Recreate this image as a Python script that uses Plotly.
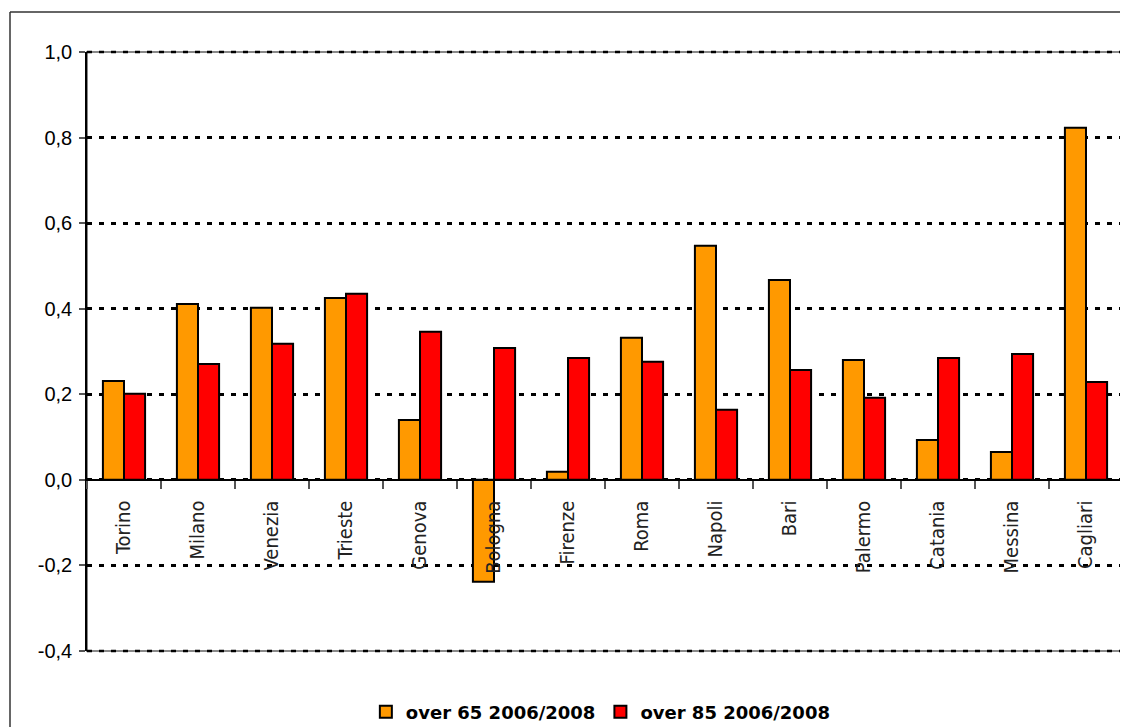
import plotly.graph_objects as go

cities = ["Torino", "Milano", "Venezia", "Trieste", "Genova", "Bologna", "Firenze",
          "Roma", "Napoli", "Bari", "Palermo", "Catania", "Messina", "Cagliari"]
over65 = [0.231, 0.411, 0.402, 0.425, 0.140, -0.238, 0.019,
          0.332, 0.547, 0.467, 0.280, 0.093, 0.065, 0.823]
over85 = [0.201, 0.271, 0.318, 0.435, 0.346, 0.308, 0.285,
          0.276, 0.164, 0.257, 0.192, 0.285, 0.294, 0.229]
series_names = ["over 65 2006/2008", "over 85 2006/2008"]
y_ticks = [-0.4, -0.2, 0.0, 0.2, 0.4, 0.6, 0.8, 1.0]
y_tick_labels = ["-0,4", "-0,2", "0,0", "0,2", "0,4", "0,6", "0,8", "1,0"]

# page body adds an 8px offset, so figure coordinates are shifted by -8
W, H = 1120, 719
ml, mr, mt, mb = 79, 5, 44, 76
pw, ph = W - ml - mr, H - mt - mb
ymin, ymax = -0.4, 1.0

fig = go.Figure()
fig.add_trace(go.Bar(x=cities, y=over65, name=series_names[0],
                     marker=dict(color="#FF9900", line=dict(color="black", width=2))))
fig.add_trace(go.Bar(x=cities, y=over85, name=series_names[1],
                     marker=dict(color="#FF0000", line=dict(color="black", width=2))))

fx = (2 - ml) / pw
fy = 1 + (mt - 4) / ph
dot = dict(color="black", width=2.5, dash="5px,7px")
shapes = [
    dict(type="rect", xref="paper", yref="paper", x0=0, x1=1, y0=0, y1=1,
         line=dict(color="#888888", width=2), layer="below"),
    dict(type="line", xref="paper", yref="paper", x0=0, x1=1, y0=1, y1=1, line=dot),
    dict(type="line", xref="paper", yref="paper", x0=0, x1=1, y0=0, y1=0, line=dot),
    dict(type="line", xref="paper", yref="paper", x0=fx, x1=fx, y0=-0.3, y1=fy,
         line=dict(color="#333333", width=1.5)),
    dict(type="line", xref="paper", yref="paper", x0=fx, x1=1.2, y0=fy, y1=fy,
         line=dict(color="#333333", width=1.5)),
]

fig.update_layout(
    template="none",
    width=W, height=H,
    margin=dict(l=ml, r=mr, t=mt, b=mb, autoexpand=False),
    paper_bgcolor="white", plot_bgcolor="white",
    barmode="group", bargap=0.43, bargroupgap=0,
    shapes=shapes,
    font=dict(family="Liberation Sans, Arial", color="black"),
    legend=dict(orientation="h", x=0.496, xanchor="center", y=(mt + ph - 704) / ph,
                yanchor="middle",
                font=dict(family="DejaVu Sans", size=18, weight="bold", color="black"),
                itemwidth=30, traceorder="normal", bgcolor="rgba(0,0,0,0)"),
    xaxis=dict(
        type="category", automargin=False,
        anchor="free", position=(0 - ymin) / (ymax - ymin),
        showline=True, linecolor="black", linewidth=1.5,
        ticks="outside", tickson="boundaries", ticklen=8, tickcolor="#555555", tickwidth=1.5,
        tickangle=-90, ticklabelstandoff=12,
        tickfont=dict(family="Liberation Sans Narrow, Arial Narrow, DejaVu Sans Condensed, Liberation Sans",
                      size=20, color="#222222"),
        showgrid=False, zeroline=False,
    ),
    yaxis=dict(
        range=[ymin, ymax], tickvals=y_ticks, ticktext=y_tick_labels, automargin=False,
        showline=True, linecolor="black", linewidth=1.5,
        ticks="outside", ticklen=6, tickcolor="#555555", tickwidth=1.5,
        ticklabelstandoff=3,
        tickfont=dict(family="Liberation Sans, Arial", size=20, color="black"),
        showgrid=True, gridcolor="black", gridwidth=2.5, griddash="5px,7px",
        zeroline=False,
    ),
)

fig.write_html("out.html")
